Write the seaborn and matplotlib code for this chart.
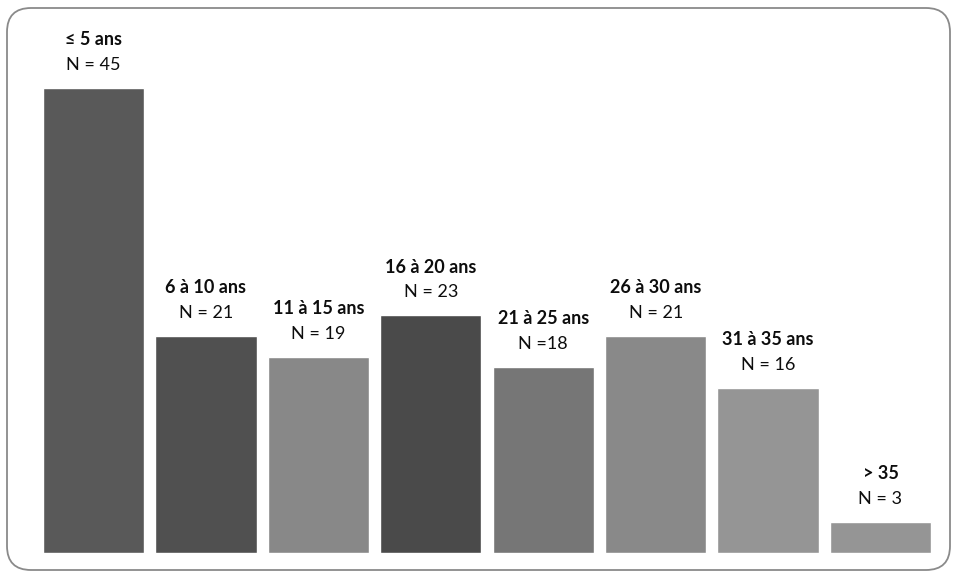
import seaborn as sns
import pandas as pd
import matplotlib
import matplotlib.pyplot as plt
from matplotlib.patches import FancyBboxPatch

# data
categories = ['≤ 5 ans', '6 à 10 ans', '11 à 15 ans', '16 à 20 ans',
              '21 à 25 ans', '26 à 30 ans', '31 à 35 ans', '> 35']
counts = [45, 21, 19, 23, 18, 21, 16, 3]
n_labels = ['N = 45', 'N = 21', 'N = 19', 'N = 23', 'N =18', 'N = 21', 'N = 16', 'N = 3']
bar_colors = ['#595959', '#505050', '#888888', '#4a4a4a',
              '#767676', '#898989', '#959595', '#959595']

df = pd.DataFrame({'cat': categories, 'n': counts})

sns.set_style('white')
matplotlib.rcParams['font.family'] = ['Lato', 'DejaVu Sans']

fig = plt.figure(figsize=(9.57, 5.78), dpi=100)
ax = fig.add_axes([0.039, 0.0433, 0.9398, 0.894])
sns.barplot(data=df, x='cat', y='n', hue='cat', palette=bar_colors,
            width=0.9, legend=False, saturation=1, ax=ax)
ax.set_xlim(-0.5, 7.5)
ax.set_ylim(0, 50)
ax.axis('off')

for i, (cat, lab, v) in enumerate(zip(categories, n_labels, counts)):
    ax.annotate(lab, (i, v), xytext=(0, 16.6), textcoords='offset points',
                ha='center', va='center', fontsize=13, color='#0d0d0d')
    ax.annotate(cat, (i, v), xytext=(0, 34.6), textcoords='offset points',
                ha='center', va='center', fontsize=13, fontweight='bold', color='#0d0d0d')

# rounded frame around the chart
frame = FancyBboxPatch((0.07, 0.08), 9.43, 5.62,
                       boxstyle='round,pad=0,rounding_size=0.24',
                       transform=fig.dpi_scale_trans, fill=False,
                       edgecolor='#8a8a8a', linewidth=1.3)
fig.patches.append(frame)

fig.savefig('out.png', dpi=100)
